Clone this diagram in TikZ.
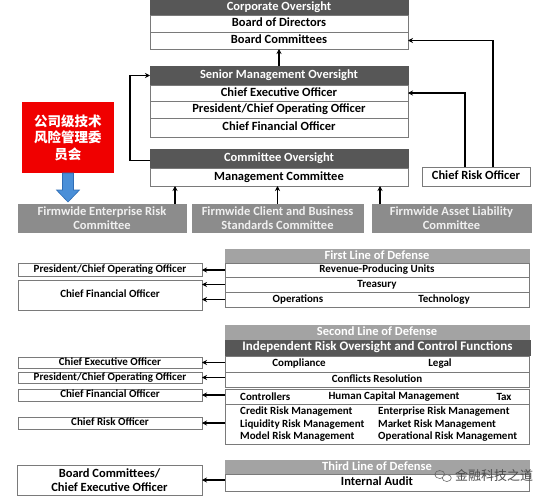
\documentclass[tikz,border=0pt]{standalone}
\usepackage{fontspec}
\setmainfont{Carlito}
\newfontfamily\cjk{Noto Sans CJK SC}
\usetikzlibrary{arrows.meta,shadows,calc}
\definecolor{hdrgray}{HTML}{575757}
\definecolor{lodgray}{HTML}{A3A3A3}
\definecolor{fwgray}{HTML}{8C8C8C}
\definecolor{framegray}{HTML}{7A7A7A}
\definecolor{redbox}{HTML}{F00000}
\definecolor{bluearrow}{HTML}{4A8FD8}
\definecolor{bluedark}{HTML}{2F6DB5}
\newcommand\rbox[7][]{\node[base,#1,minimum width={(#5-#3)*1pt},minimum height={(#6-#4)*1pt}] (#2) at ({(#3+#5)/2},{(#4+#6)/2}) {#7};}
\tikzset{
  base/.style={inner sep=0pt, outer sep=0pt, align=center, line width=0.6pt},
  shd/.style={drop shadow={shadow xshift=1.2pt,shadow yshift=-1.2pt,opacity=0.22,fill=black}},
  hdr/.style={fill=hdrgray, draw=hdrgray, text=white, font=\bfseries\fontsize{12.5}{14}\selectfont, text height=9pt, text depth=2.5pt, shd},
  row/.style={fill=white, draw=framegray, font=\bfseries\fontsize{12.5}{14}\selectfont, shd},
  onerow/.style={row, text height=9pt, text depth=2.5pt},
  lrow/.style={row, font=\bfseries\fontsize{11}{13}\selectfont, text height=7.5pt, text depth=2.2pt},
  lod/.style={fill=lodgray, draw=lodgray, text=white, font=\bfseries\fontsize{12.5}{14}\selectfont, text height=8.5pt, text depth=2.5pt, shd},
  fw/.style={fill=fwgray, draw=fwgray, text=white!94!black, font=\bfseries\fontsize{12.5}{14}\selectfont, shd},
  txt/.style={inner sep=0pt, font=\bfseries\fontsize{11}{13}\selectfont},
  arr/.style={-{Stealth[length=5pt,width=5pt]}, line width=1.1pt},
}
\begin{document}
\begin{tikzpicture}[x=1pt,y=-1pt]
\useasboundingbox (0,0) rectangle (550,501);
\fill[white] (0,0) rectangle (550,501);
% Corporate oversight
\rbox[hdr]{corp}{150}{0}{408}{15}{Corporate Oversight}
\rbox[onerow]{bod}{150}{15}{408}{32}{Board of Directors}
\rbox[onerow]{bc}{150}{32}{408}{49}{Board Committees}
% Senior management
\rbox[hdr]{senior}{150}{66}{408}{85}{Senior Management Oversight}
\rbox[onerow]{ceo}{150}{85}{408}{101}{Chief Executive Officer}
\rbox[onerow]{pres}{150}{101}{408}{118}{President/Chief Operating Officer}
\rbox[onerow]{cfo}{150}{118}{408}{137}{Chief Financial Officer}
% Committee oversight
\rbox[hdr]{comm}{150}{149}{408}{168}{Committee Oversight}
\rbox[onerow]{mc}{150}{168}{408}{186}{Management Committee}
\rbox[onerow]{cro}{422}{167}{530}{186}{Chief Risk Officer}
% red box
\rbox[fill=redbox,text=white,font=\cjk\bfseries\fontsize{13.5}{16.5}\selectfont]{red}{22}{102}{114}{173}{公司级技术\\风险管理委\\员会}
% firmwide committees
\rbox[fw]{fw1}{18}{204}{186}{232}{Firmwide Enterprise Risk\\Committee}
\rbox[fw]{fw2}{192}{204}{363}{232}{Firmwide Client and Business\\Standards Committee}
\rbox[fw]{fw3}{372}{204}{531}{232}{Firmwide Asset Liability\\Committee}
% blue block arrow
\filldraw[fill=bluearrow, draw=bluedark, line width=0.6pt] (red.south) ++(-5.5,0) -- ++(11,0) -- ++(0,17) -- ++(6,0) -- ++(-11.5,12) -- ++(-11.5,-12) -- ++(6,0) -- cycle;
% connectors top
\draw[arr] (senior.north) -- (bc.south);
\draw[arr] ([xshift=-11pt]fw1.north east) -- ([xshift=-11pt]fw1.north east |- mc.south);
\draw[arr] (fw2.north) -- (fw2.north |- mc.south);
\draw[arr] ([xshift=8pt]fw3.north west) -- ([xshift=8pt]fw3.north west |- mc.south);
\draw[arr] ([yshift=-2pt]comm.west) -- ++(-20,0) |- (senior.west);
\draw[arr] ([xshift=43pt]cro.north west) |- (ceo.east);
\draw[arr] ([xshift=71pt]cro.north west) |- (bc.east);
% First line of defense
\rbox[lod]{fl}{225}{249}{529}{263}{First Line of Defense}
\rbox[lrow]{rpu}{225}{263}{529}{277}{Revenue-Producing Units}
\rbox[lrow]{tre}{225}{277}{529}{292}{Treasury}
\rbox[lrow]{ot}{225}{292}{529}{307}{}
\node[txt] (ops) at (298,299.5) {Operations};
\node[txt] (tech) at (444,299.5) {Technology};
\rbox[lrow]{fpres}{18}{263}{202}{276}{President/Chief Operating Officer}
\rbox[lrow]{fcfo}{18}{280}{202}{310}{Chief Financial Officer}
\draw[arr] (rpu.west) -- (rpu.west -| fpres.east);
\draw[arr] (tre.west) -- (tre.west -| fcfo.east);
\draw[arr] (ot.west) -- (ot.west -| fcfo.east);
% Second line of defense
\rbox[lod]{sl}{225}{325}{529}{339}{Second Line of Defense}
\rbox[hdr,font=\bfseries\fontsize{13}{14}\selectfont]{irocf}{225}{340}{530}{355}{Independent Risk Oversight and Control Functions}
\rbox[lrow]{ra}{225}{356}{529}{372}{}
\node[txt] (compl) at (299,364) {Compliance};
\node[txt] (legal) at (440,364) {Legal};
\rbox[lrow]{rb}{225}{372}{529}{387}{Conflicts Resolution}
\rbox[lrow]{rc}{225}{389}{529}{404}{}
\node[txt,anchor=west] (ctrl) at (240,396.5) {Controllers};
\node[txt] (hcm) at (394,396.5) {Human Capital Management};
\node[txt] (tax) at (504,396.5) {Tax};
\rbox[lrow]{rd}{225}{404}{529}{444}{}
\node[txt,anchor=west] (crm) at (240,412) {Credit Risk Management};
\node[txt,anchor=west] (lrm) at (240,424.5) {Liquidity Risk Management};
\node[txt,anchor=west] (mrm) at (240,437) {Model Risk Management};
\node[txt,anchor=west] (erm) at (378,412) {Enterprise Risk Management};
\node[txt,anchor=west] (mkrm) at (378,424.5) {Market Risk Management};
\node[txt,anchor=west] (orm) at (378,437) {Operational Risk Management};
\rbox[lrow]{sceo}{18}{357}{202}{368}{Chief Executive Officer}
\rbox[lrow]{spres}{18}{372}{202}{383}{President/Chief Operating Officer}
\rbox[lrow]{scfo}{18}{389}{202}{401}{Chief Financial Officer}
\rbox[lrow]{scro}{18}{417}{202}{429}{Chief Risk Officer}
\draw[arr] (ra.west |- sceo.east) -- (sceo.east);
\draw[arr] (rb.west |- spres.east) -- (spres.east);
\draw[arr] (rc.west |- scfo.east) -- (scfo.east);
\draw[arr] (rd.west |- scro.east) -- (scro.east);
% Third line of defense
\rbox[lod]{tl}{225}{460}{529}{474}{Third Line of Defense}
\rbox[onerow]{ia}{225}{474}{529}{491}{Internal Audit}
\rbox[row]{tbc}{17}{465}{202}{495}{Board Committees/\\Chief Executive Officer}
\draw[arr] (ia.west |- tbc.east) -- (tbc.east);
% watermark
\node[inner sep=0pt, font=\cjk\fontsize{13}{13}\selectfont, text=black!70] (wm) at (494,476) {金融科技之道};
\draw[black!60, line width=0.6pt] ([xshift=-15pt,yshift=1.5pt]wm.west) ellipse (5 and 4);
\draw[black!60, line width=0.6pt, fill=white] ([xshift=-8pt,yshift=-2pt]wm.west) ellipse (4.5 and 3.5);
\end{tikzpicture}
\end{document}
